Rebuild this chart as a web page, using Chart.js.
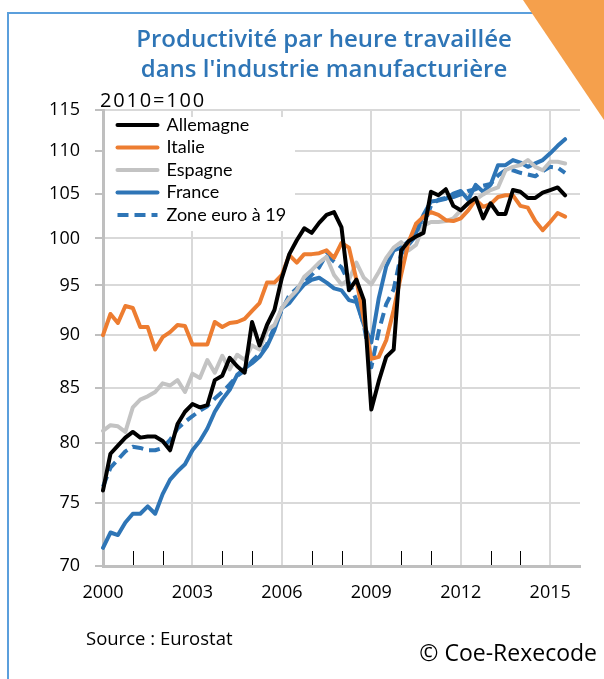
<!DOCTYPE html>
<html>
<head>
<meta charset="utf-8">
<script src="https://cdn.jsdelivr.net/npm/chart.js@4/dist/chart.umd.min.js"></script>
<style>
html,body{margin:0;padding:0;background:#fff;}
#wrap{position:relative;width:604px;height:679px;overflow:hidden;font-family:"Open Sans",Lato,sans-serif;color:#000;}
#frame{position:absolute;left:7px;top:12px;width:800px;height:800px;border-left:2px solid #5B9FDC;border-top:2px solid #5B9FDC;}
#c{position:absolute;left:0;top:0;}
#tri{position:absolute;left:0;top:0;}
.t{position:absolute;white-space:nowrap;}
#title{left:0;width:648px;top:23px;text-align:center;color:#2E75B6;font-weight:600;font-size:24px;line-height:30px;}
#unit{left:100px;top:87px;font-size:20px;line-height:26px;letter-spacing:1.8px;}
#src{left:86px;top:625px;font-size:18.5px;line-height:26px;}
#copy{right:7px;top:636px;font-size:23px;line-height:32px;}
</style>
</head>
<body>
<div id="wrap">
  <div id="frame"></div>
  <canvas id="c" width="604" height="679"></canvas>
  <svg id="tri" width="604" height="679"><polygon points="523,0 604,0 604,120" fill="#F5A04C"/></svg>
  <div id="title" class="t">Productivité par heure travaillée<br>dans l'industrie manufacturière</div>
  <div id="unit" class="t">2010=100</div>
  <div id="src" class="t">Source : Eurostat</div>
  <div id="copy" class="t">© Coe-Rexecode</div>
</div>
<script>
// Quarterly categories 2000T1 .. 2016T1 (last one = axis end)
const quarters = [];
for (let y = 2000; y <= 2016; y++) {
  for (let q = 1; q <= 4; q++) {
    if (quarters.length < 65) quarters.push(y + 'T' + q);
  }
}
const xTickLabels = ['2000', '2003', '2006', '2009', '2012', '2015'];
const yTickValues = [70, 75, 80, 85, 90, 95, 100, 105, 110, 115];
const seriesNames = ['Allemagne', 'Italie', 'Espagne', 'France', 'Zone euro à 19'];

const allemagne = [76.0, 79.1, 79.8, 80.5, 81.0, 80.5, 80.6, 80.6, 80.2, 79.4,
  81.7, 82.8, 83.5, 83.2, 83.4, 85.7, 86.1, 87.8, 87.0, 86.4,
  91.3, 89.0, 91.0, 92.5, 95.8, 98.3, 99.8, 101.1, 100.6, 101.7,
  102.6, 102.9, 101.2, 94.5, 95.6, 93.5, 83.0, 85.6, 87.9, 88.6,
  98.7, 99.7, 100.2, 100.6, 105.2, 104.8, 105.5, 103.6, 103.1, 103.9,
  104.5, 102.2, 103.9, 102.7, 102.7, 105.4, 105.2, 104.5, 104.5, 105.1,
  105.4, 105.7, 104.8];
const italie = [90.0, 92.1, 91.2, 92.9, 92.7, 90.8, 90.8, 88.6, 89.8, 90.3,
  91.0, 90.9, 89.1, 89.1, 89.1, 91.3, 90.8, 91.2, 91.3, 91.6,
  92.4, 93.2, 95.3, 95.3, 96.1, 98.2, 97.4, 98.3, 98.3, 98.4,
  98.7, 97.9, 99.5, 99.0, 95.6, 91.5, 87.7, 87.9, 89.5, 92.5,
  96.1, 99.6, 101.6, 102.4, 102.9, 102.6, 102.0, 101.9, 102.2, 103.1,
  104.3, 103.5, 103.8, 104.6, 104.8, 104.8, 103.6, 103.4, 101.9, 100.9,
  101.8, 102.8, 102.4];
const espagne = [81.1, 81.6, 81.5, 81.0, 83.2, 83.9, 84.2, 84.6, 85.4, 85.2,
  85.7, 84.6, 86.3, 85.9, 87.6, 86.4, 88.0, 86.7, 88.1, 87.6,
  89.0, 88.6, 90.5, 91.0, 92.7, 93.7, 94.5, 95.9, 96.6, 97.4,
  98.0, 96.1, 95.1, 95.6, 97.4, 95.8, 95.1, 96.4, 97.9, 99.0,
  99.6, 98.7, 99.3, 101.4, 101.8, 101.8, 101.9, 102.2, 103.1, 103.9,
  104.3, 104.9, 105.4, 105.7, 107.7, 108.1, 108.3, 108.9, 108.1, 107.7,
  108.7, 108.7, 108.5];
const france = [71.4, 72.6, 72.4, 73.4, 74.1, 74.1, 74.7, 74.1, 75.7, 76.9,
  77.6, 78.2, 79.4, 80.2, 81.3, 82.8, 83.9, 84.8, 86.2, 86.8,
  87.3, 87.9, 88.9, 90.5, 92.7, 93.2, 94.2, 95.1, 95.6, 95.8,
  95.3, 94.7, 94.5, 93.5, 93.3, 91.0, 89.3, 93.7, 97.0, 98.7,
  99.0, 99.7, 100.6, 102.6, 104.1, 104.2, 104.4, 105.0, 105.3, 104.3,
  106.0, 105.2, 106.0, 108.3, 108.3, 108.9, 108.6, 108.1, 108.5, 108.9,
  109.7, 110.6, 111.4];
const zoneEuro = [76.3, 77.9, 78.6, 79.3, 79.7, 79.6, 79.4, 79.4, 79.6, 80.3,
  81.3, 81.9, 82.4, 82.9, 83.3, 84.0, 84.6, 85.3, 86.1, 86.6,
  87.5, 88.2, 89.1, 90.8, 92.5, 94.0, 94.7, 95.3, 96.1, 96.9,
  98.3, 97.5, 96.9, 95.3, 93.5, 91.0, 86.9, 90.4, 93.1, 94.6,
  98.3, 99.3, 100.3, 101.4, 103.6, 104.3, 104.5, 104.6, 104.9, 105.3,
  105.5, 105.9, 106.1, 107.1, 107.7, 107.7, 107.4, 107.2, 107.0, 107.6,
  108.1, 108.0, 107.4];

const TICK_FONT = '"Open Sans", Lato, sans-serif';
const LEGEND_FONT = 'Lato, "Open Sans", sans-serif';
const GRID = '#D9D9D9';
const AXIS = '#BFBFBF';

function ds(label, data, color, dash) {
  return {
    label: label, data: data, borderColor: color, backgroundColor: color,
    borderWidth: 4, borderDash: dash || [], borderCapStyle: dash ? 'butt' : 'round',
    borderJoinStyle: 'round', pointRadius: 0, pointHoverRadius: 0, tension: 0, fill: false
  };
}

const decor = {
  id: 'decor',
  afterLayout(chart) {
    const lg = chart.legend, a = chart.chartArea;
    if (!lg) return;
    lg.left = a.left + 10; lg.right = a.right;
    lg.top = a.top + 1.5; lg.bottom = a.bottom;
  },
  beforeDatasetsDraw(chart) {
    const ctx = chart.ctx, a = chart.chartArea, x = chart.scales.x;
    ctx.save();
    // white box behind legend
    ctx.fillStyle = '#fff';
    ctx.fillRect(a.left + 2, a.top + 7, 190, 114);
    // minor yearly tick marks
    ctx.strokeStyle = '#000';
    ctx.lineWidth = 1;
    for (let i = 0; i < quarters.length - 1; i++) {
      if (quarters[i].endsWith('T1') && i % 12 !== 0) {
        const px = Math.round(x.getPixelForValue(i)) + 0.5;
        ctx.beginPath();
        ctx.moveTo(px, a.bottom - 1);
        ctx.lineTo(px, a.bottom - 15);
        ctx.stroke();
      }
    }
    ctx.restore();
    if (chart.legend) chart.legend.draw();
  }
};

new Chart(document.getElementById('c'), {
  type: 'line',
  data: {
    labels: quarters,
    datasets: [
      ds(seriesNames[0], allemagne, '#000000'),
      ds(seriesNames[1], italie, '#ED7D31'),
      ds(seriesNames[2], espagne, '#C3C3C3'),
      ds(seriesNames[3], france, '#2E75B6'),
      ds(seriesNames[4], zoneEuro, '#2E75B6', [11, 6])
    ].map((d, i) => Object.assign(d, { order: i }))
  },
  options: {
    responsive: false,
    animation: false,
    devicePixelRatio: 1,
    layout: { padding: { top: 110, right: 24, bottom: 0, left: 0 } },
    plugins: {
      tooltip: { enabled: false },
      title: { display: false },
      legend: {
        display: true,
        position: 'chartArea',
        align: 'start',
        labels: {
          usePointStyle: true,
          pointStyleWidth: 40,
          padding: 4.5,
          color: '#000',
          font: { family: LEGEND_FONT, size: 18 },
          generateLabels(chart) {
            return chart.data.datasets.map((d, i) => ({
              text: d.label,
              fillStyle: d.borderColor,
              strokeStyle: d.borderColor,
              lineWidth: d.borderWidth,
              lineDash: d.borderDash,
              lineCap: d.borderDash.length ? 'butt' : 'round',
              pointStyle: 'line',
              fontColor: '#000',
              hidden: false,
              datasetIndex: i
            }));
          }
        }
      }
    },
    scales: {
      x: {
        type: 'category',
        offset: false,
        afterFit(s) { s.height = 113; },
        grid: {
          offset: false,
          drawTicks: false,
          lineWidth: 2,
          color: c => (c.index % 12 === 0 && c.index < quarters.length - 1) ? GRID : 'rgba(0,0,0,0)'
        },
        border: { color: AXIS, width: 3 },
        ticks: {
          autoSkip: false,
          maxRotation: 0,
          minRotation: 0,
          padding: 16,
          color: '#000',
          font: { family: TICK_FONT, size: 18 },
          callback(v, i) {
            const lab = quarters[i];
            const yr = lab.slice(0, 4);
            return (lab.endsWith('T1') && xTickLabels.includes(yr)) ? yr : '';
          }
        }
      },
      y: {
        type: 'logarithmic',
        min: 70,
        max: 115,
        afterFit(s) { s.width = 103; },
        afterBuildTicks(s) { s.ticks = yTickValues.map(v => ({ value: v })); },
        grid: { color: GRID, lineWidth: 2, tickLength: 8, tickColor: AXIS, tickWidth: 2 },
        border: { color: AXIS, width: 3 },
        ticks: {
          padding: 15,
          color: '#000',
          font: { family: TICK_FONT, size: 18 },
          callback: v => String(v)
        }
      }
    }
  },
  plugins: [decor]
});
</script>
</body>
</html>
